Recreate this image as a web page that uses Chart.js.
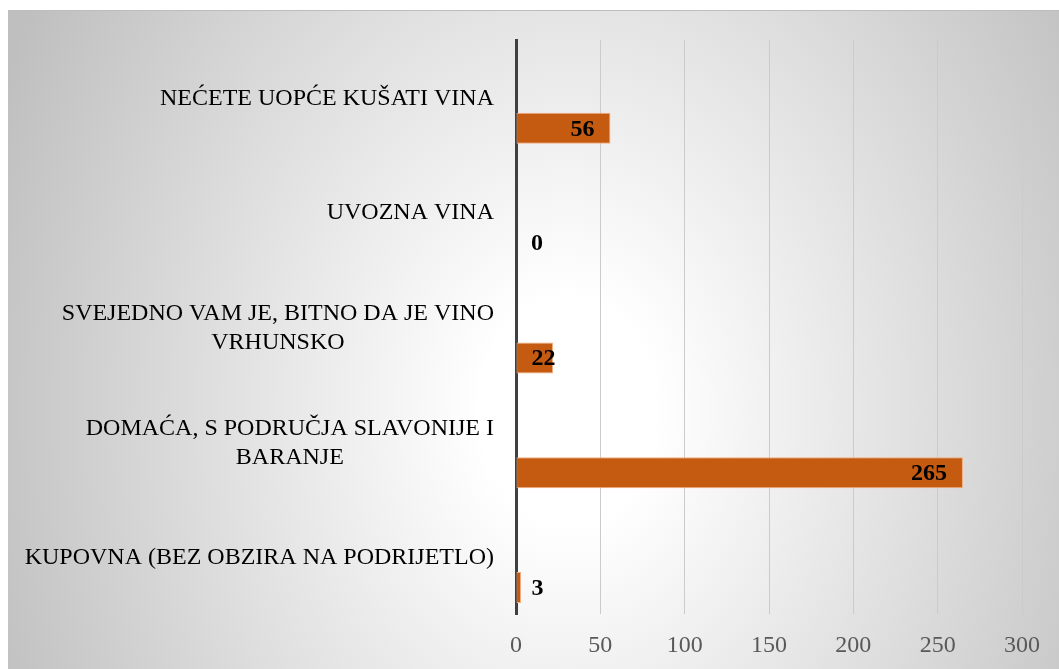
<!DOCTYPE html>
<html>
<head>
<meta charset="utf-8">
<script src="https://cdn.jsdelivr.net/npm/chart.js@4.4.0/dist/chart.umd.min.js"></script>
<style>
  body { margin: 0; background: #fff; }
  #frame {
    position: absolute; left: 8px; top: 10px; width: 1051px; height: 659px;
    background: radial-gradient(ellipse 620px 800px at 560px 400px, #ffffff 0%, #ffffff 14%, #bfbfbf 100%);
    border-top: 1px solid #bdbdbd;
    box-sizing: border-box;
  }
  #myChart { display: block; }
</style>
</head>
<body>
<div id="frame"><canvas id="myChart" width="1051" height="658"></canvas></div>
<script>
var categories = [
  'NEĆETE UOPĆE KUŠATI VINA',
  'UVOZNA VINA',
  ['SVEJEDNO VAM JE, BITNO DA JE VINO', 'VRHUNSKO'],
  ['DOMAĆA, S PODRUČJA SLAVONIJE I', 'BARANJE'],
  'KUPOVNA (BEZ OBZIRA NA PODRIJETLO)'
];
var answers = [56, 0, 22, 265, 3];
var emptySeries = [null, null, null, null, null];
var xTicks = [0, 50, 100, 150, 200, 250, 300];

var serif = "'Liberation Serif', 'Times New Roman', serif";

// category labels: right aligned block, lines centred inside it
var catLabels = {
  id: 'catLabels',
  afterDraw: function(chart) {
    var ctx = chart.ctx;
    var y = chart.scales.y;
    ctx.save();
    ctx.font = '24px ' + serif;
    ctx.fillStyle = '#000';
    ctx.textAlign = 'center';
    ctx.textBaseline = 'middle';
    var lh = 29;
    for (var i = 0; i < categories.length; i++) {
      var lines = Array.isArray(categories[i]) ? categories[i] : [categories[i]];
      var w = 0;
      lines.forEach(function(l){ w = Math.max(w, ctx.measureText(l).width); });
      var cx = 486 - w / 2;
      var cy = y.getPixelForValue(i) + 1 - (lines.length - 1) * lh / 2;
      for (var k = 0; k < lines.length; k++) {
        ctx.fillText(lines[k], cx, cy + k * lh);
      }
    }
    ctx.restore();
  }
};

// value labels on the bars
var valLabels = {
  id: 'valLabels',
  afterDatasetsDraw: function(chart) {
    var ctx = chart.ctx;
    var meta = chart.getDatasetMeta(1);
    ctx.save();
    ctx.font = 'bold 24px ' + serif;
    ctx.fillStyle = '#000';
    ctx.textBaseline = 'middle';
    meta.data.forEach(function(bar, i) {
      var txt = String(answers[i]);
      var tw = ctx.measureText(txt).width;
      if (bar.x - bar.base >= tw + 30) {
        ctx.textAlign = 'right';
        ctx.fillText(txt, bar.x - 16, bar.y + 1);
      } else {
        ctx.textAlign = 'left';
        ctx.fillText(txt, bar.base + 15, bar.y + 1);
      }
    });
    ctx.restore();
  }
};

const data = {
  labels: categories,
  datasets: [{
    label: 'prazno',
    data: emptySeries,
    backgroundColor: 'rgba(0,0,0,0)'
  }, {
    label: 'Odgovori',
    data: answers,
    backgroundColor: '#c55a11',
    borderColor: '#f2ae7e',
    borderWidth: 1,
    borderSkipped: false
  }]
};

const config = {
  type: 'bar',
  data: data,
  plugins: [catLabels, valLabels],
  options: {
    responsive: false,
    animation: false,
    indexAxis: 'y',
    categoryPercentage: 1.078,
    barPercentage: 0.5,
    layout: { padding: { top: 29, right: 37, left: 0, bottom: 0 } },
    plugins: { legend: { display: false }, tooltip: { enabled: false } },
    scales: {
      y: {
        grid: { display: false, drawTicks: false },
        border: { display: true, color: '#404040', width: 3 },
        ticks: { display: false },
        afterFit: function(scale) { scale.width = 508; }
      },
      x: {
        min: 0,
        max: 300,
        afterBuildTicks: function(scale) {
          scale.ticks = xTicks.map(function(v){ return { value: v }; });
        },
        grid: { color: '#cbcbcb', lineWidth: 1, drawTicks: false },
        border: { display: false },
        ticks: { color: '#595959', font: { family: serif, size: 24 }, padding: 17 },
        afterFit: function(scale) { scale.height = 55; }
      }
    }
  }
};

const myChart = new Chart(document.getElementById('myChart'), config);
</script>
</body>
</html>
